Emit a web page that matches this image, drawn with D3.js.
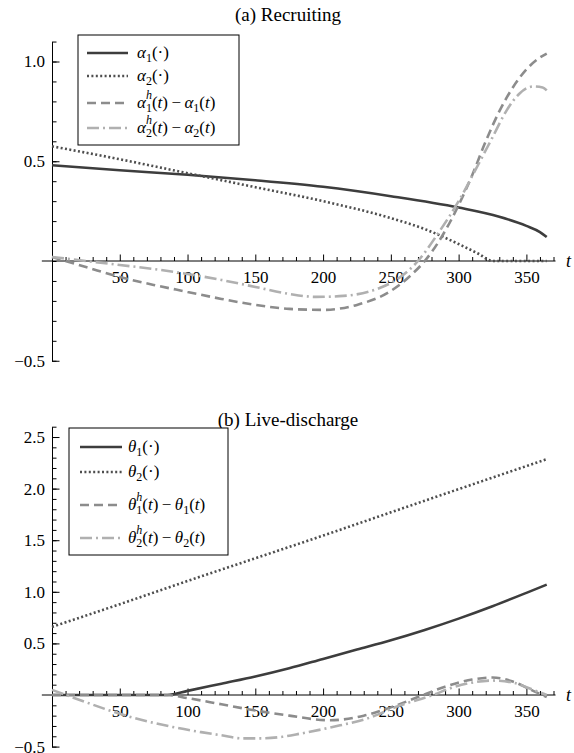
<!DOCTYPE html>
<html>
<head>
<meta charset="utf-8">
<script src="https://cdn.jsdelivr.net/npm/d3@7"></script>
<style>
  body { margin: 0; background: #fff; }
  svg, svg text { font-family: "Liberation Serif", "Times New Roman", serif; }
</style>
</head>
<body>
<svg id="chart" width="574" height="753"></svg>
<script>
// ---- data ----
const alpha1T = [0, 50, 100, 150, 200, 250, 300, 330, 350, 360, 365];
const alpha1V = [0.48, 0.455, 0.432, 0.405, 0.372, 0.325, 0.268, 0.222, 0.176, 0.145, 0.12];

const alpha2T = [0, 50, 100, 150, 200, 250, 275, 300, 315, 325, 345, 365];
const alpha2V = [0.575, 0.51, 0.44, 0.37, 0.30, 0.215, 0.16, 0.085, 0.035, 0, 0, 0];

const alphaDiff1T = [0, 25, 50, 75, 100, 125, 150, 175, 200, 225, 250, 265, 275, 290, 300, 310, 320, 330, 340, 350, 360, 365];
const alphaDiff1V = [0.02, -0.03, -0.08, -0.12, -0.155, -0.19, -0.22, -0.24, -0.245, -0.22, -0.15, -0.07, 0.0, 0.15, 0.28, 0.43, 0.60, 0.75, 0.87, 0.96, 1.02, 1.04];

const alphaDiff2T = [0, 25, 50, 75, 100, 125, 150, 175, 195, 215, 240, 255, 270, 285, 300, 315, 325, 335, 345, 355, 362, 365];
const alphaDiff2V = [0.02, 0.0, -0.02, -0.04, -0.065, -0.095, -0.13, -0.165, -0.18, -0.175, -0.14, -0.09, 0.0, 0.14, 0.30, 0.49, 0.62, 0.75, 0.84, 0.875, 0.87, 0.855];

const theta1T = [0, 50, 85, 100, 125, 150, 175, 200, 225, 250, 275, 300, 325, 350, 365];
const theta1V = [0, 0, 0, 0.04, 0.11, 0.18, 0.26, 0.35, 0.44, 0.53, 0.63, 0.74, 0.86, 0.99, 1.07];

const theta2T = [0, 50, 100, 150, 200, 250, 300, 365];
const theta2V = [0.66, 0.88, 1.105, 1.325, 1.545, 1.77, 1.995, 2.285];

const thetaDiff1T = [0, 50, 85, 100, 125, 150, 175, 205, 230, 250, 270, 290, 310, 325, 340, 355, 365];
const thetaDiff1V = [0, 0, 0, -0.03, -0.09, -0.15, -0.2, -0.245, -0.2, -0.12, -0.02, 0.08, 0.15, 0.17, 0.13, 0.04, -0.02];

const thetaDiff2T = [0, 25, 52, 89, 110, 125, 140, 155, 170, 183, 207, 232, 257, 281, 295, 310, 325, 340, 355, 365];
const thetaDiff2V = [0.05, -0.07, -0.19, -0.31, -0.36, -0.39, -0.42, -0.42, -0.405, -0.375, -0.31, -0.23, -0.1, 0.0, 0.07, 0.12, 0.14, 0.12, 0.05, 0.0];

const xMajorTicks = [50, 100, 150, 200, 250, 300, 350];
const topYMajor = [-0.5, 0.5, 1.0];
const bottomYMajor = [-0.5, 0.5, 1.0, 1.5, 2.0, 2.5];

const titles = ["(a) Recruiting", "(b) Live-discharge"];

// ---- styles ----
const serif = "'Liberation Serif', 'Times New Roman', serif";
const styles = {
  solid:   {color: "#3d3d3d", dash: null},
  dotted:  {color: "#4e4e4e", dash: "2,2.4"},
  dashed:  {color: "#8c8c8c", dash: "9,5"},
  dotdash: {color: "#b0b0b0", dash: "12,4,2,4"}
};

const svg = d3.select("#chart");

const x = d3.scaleLinear().domain([0, 370]).range([52, 553.5]);

function fmt(d) {
  return d < 0 ? "\u2212" + Math.abs(d).toFixed(1) : d.toFixed(1);
}

// strip d3's default sans-serif so the serif applies
function serifAxis(a) {
  a.attr("font-family", serif).attr("font-size", 17);
  a.selectAll("text")
    .style("font-family", serif)
    .style("font-size", "17px")
    .attr("fill", "#000");
}

function drawPanel(cfg) {
  const g = svg.append("g");
  const y = d3.scaleLinear().domain(cfg.yDomain).range(cfg.yRange);

  // title
  g.append("text")
    .attr("x", 288)
    .attr("y", cfg.titleY)
    .attr("text-anchor", "middle")
    .style("font-size", "19px")
    .text(cfg.title);

  // y axis, minor then major
  const minor = d3.range(Math.round(cfg.yDomain[0] * 10), Math.round(cfg.yDomain[1] * 10) + 1).map(d => d / 10);
  g.append("g")
    .attr("transform", "translate(" + x(0) + ",0)")
    .call(d3.axisLeft(y).tickValues(minor).tickSize(-4.5).tickSizeOuter(0).tickFormat(""));

  g.append("g")
    .attr("transform", "translate(" + x(0) + ",0)")
    .call(d3.axisLeft(y).tickValues(cfg.yMajor).tickSize(-7.5).tickPadding(7).tickFormat(fmt))
    .call(a => a.select(".domain").remove())
    .call(serifAxis);

  // x axis
  const xMinor = d3.range(10, 371, 10).filter(d => d % 50 !== 0);
  g.append("g")
    .attr("transform", "translate(0," + y(0) + ")")
    .call(d3.axisBottom(x).tickValues(xMinor).tickSize(-4).tickFormat(""))
    .call(a => a.select(".domain").remove());
  g.append("g")
    .attr("transform", "translate(0," + y(0) + ")")
    .call(d3.axisBottom(x).tickValues(xMajorTicks).tickSize(-6.5).tickPadding(10))
    .call(a => a.select(".domain").remove())
    .call(serifAxis);
  g.append("line")
    .attr("x1", x(-7.5)).attr("x2", x(371.5))
    .attr("y1", y(0)).attr("y2", y(0))
    .attr("stroke", "#000").attr("stroke-width", 1);

  g.append("text")
    .attr("x", 566)
    .attr("y", y(0) + 6)
    .style("font-size", "18px")
    .style("font-style", "italic")
    .text("t");

  // curves
  const line = d3.line()
    .x(d => x(d[0]))
    .y(d => y(d[1]))
    .curve(d3.curveMonotoneX);

  cfg.series.forEach(s => {
    const st = styles[s.style];
    g.append("path")
      .datum(d3.zip(s.t, s.v))
      .attr("fill", "none")
      .attr("stroke", st.color)
      .attr("stroke-width", 2.6)
      .attr("stroke-dasharray", st.dash)
      .attr("d", line);
  });

  // legend
  const L = cfg.legend;
  const lg = g.append("g");
  lg.append("rect")
    .attr("x", L.x).attr("y", L.y)
    .attr("width", L.w).attr("height", L.h)
    .attr("fill", "#fff").attr("stroke", "#000").attr("stroke-width", 1);

  cfg.series.forEach((s, i) => {
    const st = styles[s.style];
    const ry = L.rows[i];
    lg.append("line")
      .attr("x1", L.lineX[0]).attr("x2", L.lineX[1])
      .attr("y1", ry).attr("y2", ry)
      .attr("stroke", st.color)
      .attr("stroke-width", 2.6)
      .attr("stroke-dasharray", st.dash);
    addLabel(lg, L.textX, ry + 5, cfg.greek, s.idx, s.diff);
  });
}

function addLabel(g, tx, ty, greek, idx, isDiff) {
  const t = g.append("text").attr("x", tx).attr("y", ty).style("font-size", "17px");
  t.append("tspan").style("font-style", "italic").text(greek);
  if (isDiff) {
    t.append("tspan").style("font-size", "12px").style("font-style", "italic").attr("dy", -9).text("h");
    t.append("tspan").style("font-size", "12px").attr("dx", -6).attr("dy", 13).text(idx);
    t.append("tspan").attr("dy", -4).text("(");
    t.append("tspan").style("font-style", "italic").text("t");
    t.append("tspan").text(")\u2009\u2212\u2009");
    t.append("tspan").style("font-style", "italic").text(greek);
    t.append("tspan").style("font-size", "12px").attr("dy", 4).text(idx);
    t.append("tspan").attr("dy", -4).text("(");
    t.append("tspan").style("font-style", "italic").text("t");
    t.append("tspan").text(")");
  } else {
    t.append("tspan").style("font-size", "12px").attr("dy", 4).text(idx);
    t.append("tspan").attr("dy", -4).text("(\u00b7)");
  }
}

drawPanel({
  title: titles[0],
  titleY: 21,
  yDomain: [-0.5, 1.1],
  yRange: [360.75, 41.55],
  yMajor: topYMajor,
  greek: "\u03b1",
  series: [
    {t: alpha1T, v: alpha1V, style: "solid", idx: "1", diff: false},
    {t: alpha2T, v: alpha2V, style: "dotted", idx: "2", diff: false},
    {t: alphaDiff1T, v: alphaDiff1V, style: "dashed", idx: "1", diff: true},
    {t: alphaDiff2T, v: alphaDiff2V, style: "dotdash", idx: "2", diff: true}
  ],
  legend: {x: 78, y: 35, w: 161, h: 110, rows: [53, 76, 103, 128], lineX: [87, 128], textX: 137}
});

drawPanel({
  title: titles[1],
  titleY: 426,
  yDomain: [-0.5, 2.6],
  yRange: [746.6, 426.7],
  yMajor: bottomYMajor,
  greek: "\u03b8",
  series: [
    {t: theta1T, v: theta1V, style: "solid", idx: "1", diff: false},
    {t: theta2T, v: theta2V, style: "dotted", idx: "2", diff: false},
    {t: thetaDiff1T, v: thetaDiff1V, style: "dashed", idx: "1", diff: true},
    {t: thetaDiff2T, v: thetaDiff2V, style: "dotdash", idx: "2", diff: true}
  ],
  legend: {x: 69, y: 428, w: 159, h: 127, rows: [447, 472, 505, 538], lineX: [80, 122], textX: 128}
});
</script>
</body>
</html>
